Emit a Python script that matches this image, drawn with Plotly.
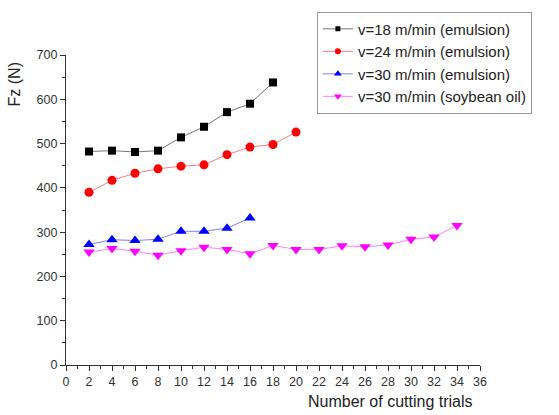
import plotly.graph_objects as go

x18 = [2, 4, 6, 8, 10, 12, 14, 16, 18]
fz18 = [482, 484, 481, 484, 514, 538, 571, 590, 638]
x24 = [2, 4, 6, 8, 10, 12, 14, 16, 18, 20]
fz24 = [390, 417, 433, 443, 449, 452, 475, 492, 498, 526]
x30e = [2, 4, 6, 8, 10, 12, 14, 16]
fz30e = [272, 283, 281, 284, 302, 302, 309, 332]
x30s = [2, 4, 6, 8, 10, 12, 14, 16, 18, 20, 22, 24, 26, 28, 30, 32, 34]
fz30s = [255, 263, 257, 248, 258, 266, 261, 251, 270, 261, 261, 269, 267, 271, 284, 289, 315]

names = ["v=18 m/min (emulsion)", "v=24 m/min (emulsion)",
         "v=30 m/min (emulsion)", "v=30 m/min (soybean oil)"]
xticks = list(range(0, 37, 2))
yticks = list(range(0, 701, 100))

FONT = "Liberation Sans, Arial"
fig = go.Figure()
series = [
    (x18, fz18, "#000000", "#777777", "square", 8, 5),
    (x24, fz24, "#ff0000", "#ff8080", "circle", 9, 6),
    (x30e, fz30e, "#0000ff", "#8080ff", "triangle-up", 10, 7),
    (x30s, fz30s, "#ff00ff", "#ff80ff", "triangle-down", 10, 7),
]
for (xs, ys, mc, lc, sym, sz, lsz), nm in zip(series, names):
    fig.add_trace(go.Scatter(x=xs, y=ys, name=nm, mode="lines+markers",
                             showlegend=False,
                             line=dict(color=lc, width=1),
                             marker=dict(color=mc, symbol=sym, size=sz)))
    # legend entry with smaller marker, as in the reference
    fig.add_trace(go.Scatter(x=[None], y=[None], name=nm, mode="lines+markers",
                             line=dict(color=lc, width=1),
                             marker=dict(color=mc, symbol=sym, size=lsz)))

axis_common = dict(showline=True, linecolor="#333333", linewidth=1.3,
                   ticks="outside", ticklen=5, tickcolor="#333333",
                   showgrid=False, zeroline=False,
                   tickfont=dict(family=FONT, size=12.5, color="#333333"))
fig.update_xaxes(range=[0, 36], tickvals=xticks,
                 minor=dict(ticks="outside", ticklen=3, dtick=1, tickcolor="#333333"),
                 **axis_common)
fig.update_yaxes(range=[0, 700], tickvals=yticks,
                 minor=dict(ticks="outside", ticklen=3, dtick=50, tickcolor="#333333"),
                 **axis_common)

fig.add_annotation(text="Number of cutting trials", xref="paper", yref="paper",
                   x=0.785, y=-0.117, showarrow=False, xanchor="center", yanchor="middle",
                   font=dict(family=FONT, size=16, color="#222222"))
fig.add_annotation(text="Fz (N)", xref="paper", yref="paper", textangle=-90,
                   x=-0.1256, y=0.905, showarrow=False, xanchor="center", yanchor="middle",
                   font=dict(family=FONT, size=16, color="#222222"))

fig.update_layout(
    width=559, height=415,
    margin=dict(l=66, r=79, t=49, b=50),
    plot_bgcolor="white", paper_bgcolor="white",
    showlegend=True,
    legend=dict(x=0.606, y=1.14, xanchor="left", yanchor="top",
                bordercolor="#999999", borderwidth=1, bgcolor="white",
                font=dict(family=FONT, size=15, color="#222222"),
                tracegroupgap=0, itemwidth=30),
)
fig.write_html("out.html")
